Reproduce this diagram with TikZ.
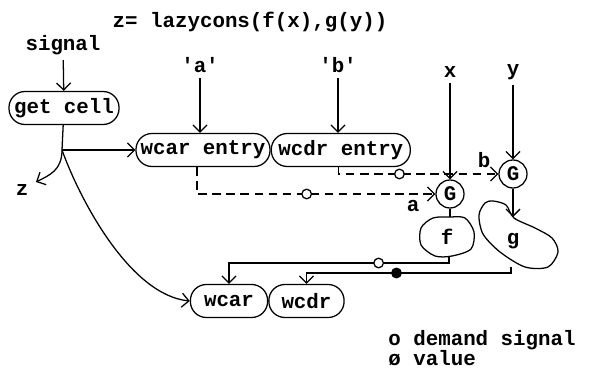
\documentclass[tikz,border=0pt]{standalone}
\usepackage{fontspec}
\setmonofont{Liberation Mono}
\usetikzlibrary{arrows.meta,positioning}

\tikzset{
  cell/.style={draw, rounded corners=0.4cm, minimum height=0.825cm, inner sep=2pt},
  gate/.style={circle, draw, minimum size=0.7cm, inner sep=0pt},
  demand/.style={circle, draw, fill=white, solid, minimum size=0.24cm, inner sep=0pt},
  value/.style={circle, draw, fill=black, minimum size=0.24cm, inner sep=0pt},
  lazy/.style={dash pattern=on 6pt off 4pt},
}

\begin{document}
\begin{tikzpicture}[x=0.025cm, y=-0.025cm, line width=0.9pt,
  font=\ttfamily\bfseries\fontsize{14.8}{16}\selectfont, >={Straight Barb[length=5pt]}]
\useasboundingbox (0,0) rectangle (590,372);

% we place the title
\node (title) at (250,22) {z= lazycons(f(x),g(y))};

% the cells
\node (signal) at (63,45) {signal};
\node[cell, minimum width=2.75cm] (getcell) at (64,108) {get cell};
\node[cell, minimum width=3.35cm] (wcarentry) at (203,150) {wcar entry};
\node[cell, minimum width=3.475cm, right=0pt of wcarentry] (wcdrentry) {wcdr entry};
\node[cell, minimum width=1.93cm] (wcar) at (229,301) {wcar};
\node[cell, minimum width=1.88cm, right=0pt of wcar] (wcdr) {wcdr};

% we add some labels
\node (quotea) at (200,65) {'a'};
\node (quoteb) at (338,65) {'b'};
\node (xin) at (450,72) {x};
\node (yin) at (513,72) {y};
\node (zlabel) at (22,190) {z};
\node (alabel) at (413,206) {a};
\node (blabel) at (484,160) {b};

% the two G nodes
\node[gate] (gx) at (450,194) {G};
\node[gate] (gy) at (513,174) {G};

% we draw f and g
\draw plot[smooth cycle] coordinates {(450,217) (465,218) (474,232) (471,249) (452,256)
  (435,256) (421,245) (421,228) (433,218)};
\node (flabel) at (447,237) {f};
\coordinate (ftop) at (450,217);
\coordinate (fbot) at (449,256);

\draw plot[smooth cycle] coordinates {(493,201) (506,205) (514,218) (535,228) (552,238)
  (558,252) (548,267) (525,267) (500,252) (483,234) (479,215) (485,203)};
\node (glabel) at (513,241) {g};
\coordinate (gtop) at (513,217);
\coordinate (gbot) at (511,267);

% connectors
\coordinate (split) at (62,150);
\coordinate (zend) at (36,182);
\draw[->] (signal) -- (getcell);
\draw (getcell) -- (split);
\draw[->] (split) -- (wcarentry);
\draw[->] (split) .. controls (62,170) and (50,175) .. (zend);
\draw[->] (split) .. controls (80,200) and (130,295) .. (wcar.west);
\draw[->] (quotea) -- (quotea |- wcarentry.north);
\draw[->] (quoteb) -- (quoteb |- wcdrentry.north);
\draw[->] (xin) -- (gx);
\draw[->] (yin) -- (gy);
\draw (gx) -- (ftop);
\draw[->] (gy) -- (gtop);

% demand signals
\draw[lazy,->] ([xshift=-0.15cm]wcarentry.south) |- node[demand,pos=0.73]{} (gx);
\draw[lazy,->] ([xshift=-0.05cm]wcdrentry.south) |- node[demand,pos=0.69]{} (gy);

% values back to the cell
\draw[->] (fbot) -- ++(0,7) -| node[demand,pos=0.16]{} (wcar);
\draw[->] (gbot) -- ++(0,6) -| node[value,pos=0.28]{} (wcdr);

% legend
\node[anchor=west] (legdemand) at (383,340) {o demand signal};
\node[anchor=west] (legvalue) at (383,358) {ø value};

\end{tikzpicture}
\end{document}
